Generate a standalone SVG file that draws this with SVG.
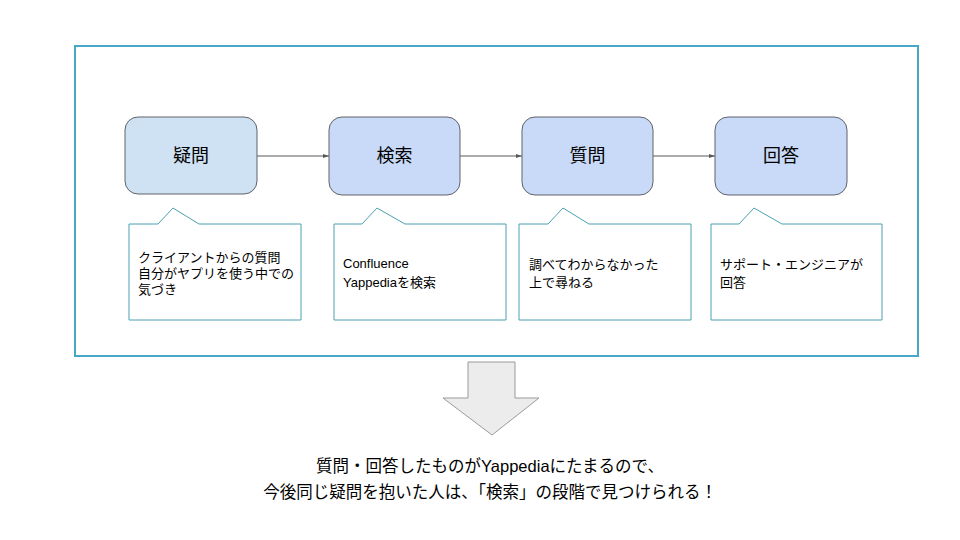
<svg xmlns="http://www.w3.org/2000/svg" width="960" height="540" viewBox="0 0 960 540">
<defs>
<style>
text{font-family:"Liberation Sans","Noto Sans CJK JP",sans-serif;fill:#000;}
.node rect{stroke:#5f6368;stroke-width:1;}
.nt{font-size:18px;text-anchor:middle;dominant-baseline:central;}
.co{fill:#fff;stroke:#4a9fb2;stroke-width:1;}
.ct{font-size:13px;}
.edge{stroke:#595959;stroke-width:1;fill:none;marker-end:url(#ah);}
.bt{font-size:16.5px;text-anchor:middle;}
</style>
<marker id="ah" viewBox="0 0 10 10" refX="10" refY="5" markerWidth="6" markerHeight="6" orient="auto" markerUnits="userSpaceOnUse">
<path d="M0,1.5 L10,5 L0,8.5 z" fill="#595959"/>
</marker>
</defs>
<rect width="960" height="540" fill="#fff"/>
<rect id="frame" x="75" y="46" width="843" height="310" fill="none" stroke="#46a8c4" stroke-width="2"/>

<g id="connectors">
<line class="edge" x1="257" y1="156" x2="329" y2="156"/>
<line class="edge" x1="460" y1="156" x2="522" y2="156"/>
<line class="edge" x1="653" y1="156" x2="715" y2="156"/>
</g>

<g id="n1" class="node"><rect x="125" y="117" width="132" height="77" rx="13" fill="#cfe2f3"/><text class="nt" x="191" y="156">疑問</text></g>
<g id="n2" class="node"><rect x="329" y="117" width="131" height="78" rx="13" fill="#c9daf8"/><text class="nt" x="394.5" y="156">検索</text></g>
<g id="n3" class="node"><rect x="522" y="117" width="131" height="78" rx="13" fill="#c9daf8"/><text class="nt" x="587.5" y="156">質問</text></g>
<g id="n4" class="node"><rect x="715" y="117" width="132" height="78" rx="13" fill="#c9daf8"/><text class="nt" x="781" y="156">回答</text></g>

<g id="c1"><path class="co" d="M129,224 H158 L173,208 L199,224 H301 V320 H129 Z"/>
<text class="ct" x="138" y="262">クライアントからの質問</text>
<text class="ct" x="138" y="278">自分がヤプリを使う中での</text>
<text class="ct" x="138" y="294">気づき</text></g>
<g id="c2"><path class="co" d="M334,224 H362 L377,208 L405,224 H506 V320 H334 Z"/>
<text class="ct" x="343" y="268">Confluence</text>
<text class="ct" x="343" y="287">Yappediaを検索</text></g>
<g id="c3"><path class="co" d="M519,224 H548 L563,208 L589,224 H691 V320 H519 Z"/>
<text class="ct" x="529" y="269">調べてわからなかった</text>
<text class="ct" x="529" y="287">上で尋ねる</text></g>
<g id="c4"><path class="co" d="M711,224 H739 L754,208 L782,224 H882 V320 H711 Z"/>
<text class="ct" x="720" y="269">サポート・エンジニアが</text>
<text class="ct" x="720" y="287">回答</text></g>

<g id="bigarrow"><path d="M468,362 H515 V398 H539 L492,435 L443,398 H468 Z" fill="#ececec" stroke="#9a9a9a" stroke-width="1"/></g>

<g id="summary">
<text class="bt" x="490" y="472">質問・回答したものがYappediaにたまるので、</text>
<text class="bt" x="490" y="498">今後同じ疑問を抱いた人は、「検索」の段階で見つけられる！</text>
</g>
</svg>
